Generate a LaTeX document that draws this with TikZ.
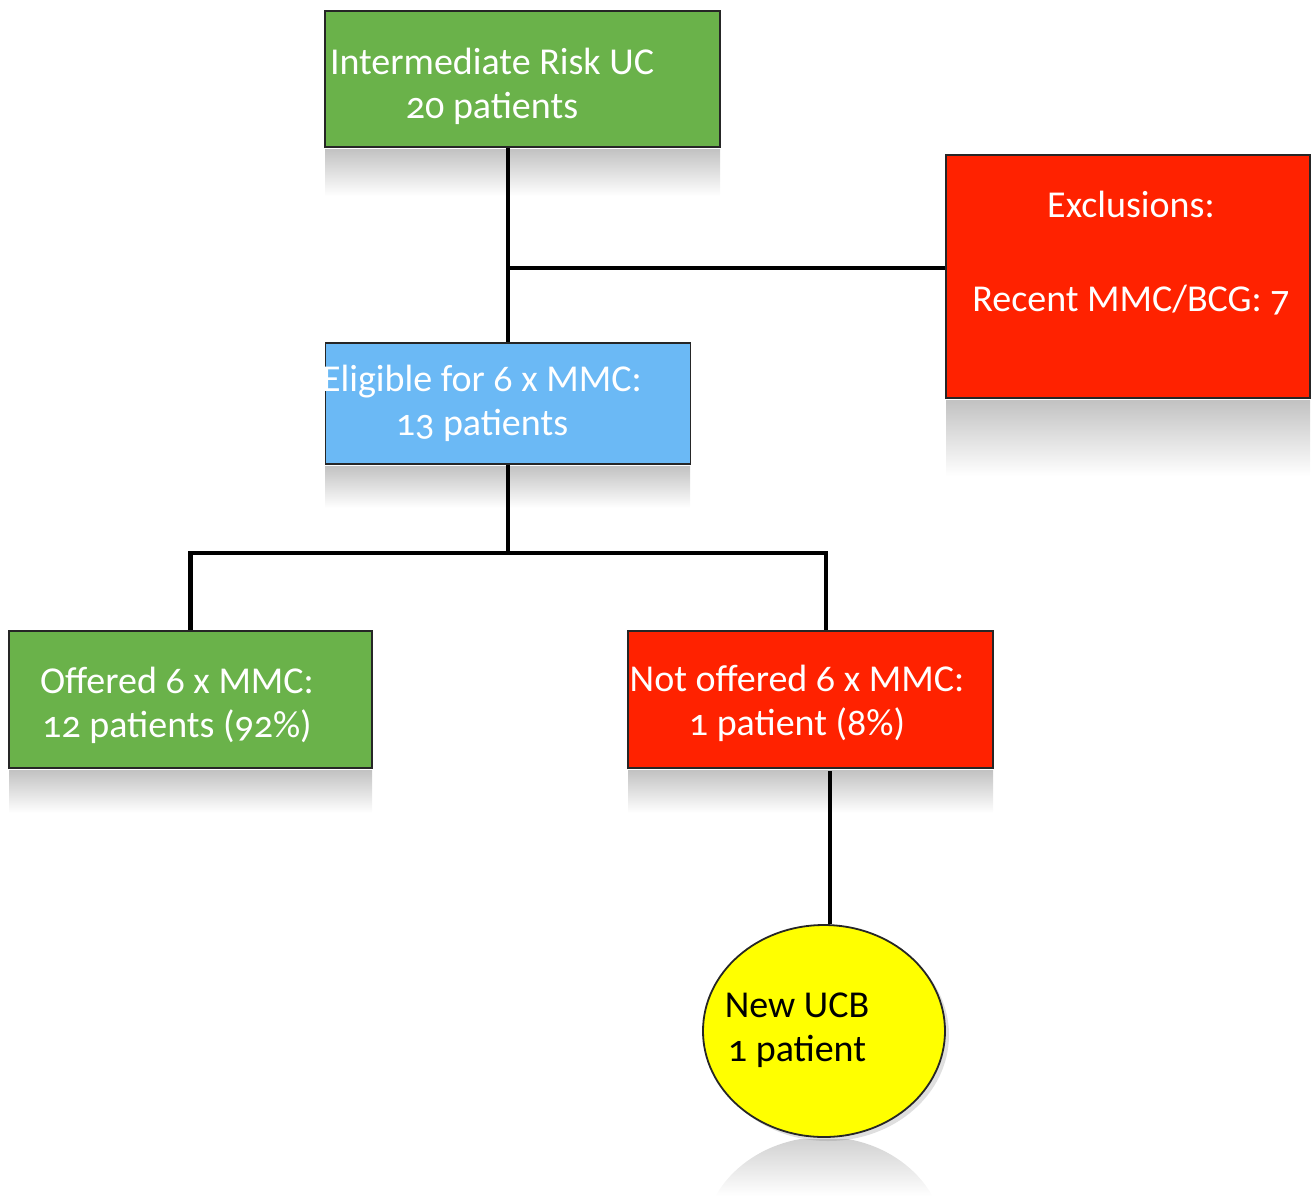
\documentclass[tikz,border=0pt]{standalone}
\usepackage{fontspec}
\setmainfont{Carlito}[Numbers=OldStyle]
\usetikzlibrary{shapes.geometric,shadows}
\definecolor{boxgreen}{RGB}{106,178,74}
\definecolor{boxred}{RGB}{255,34,0}
\definecolor{boxblue}{RGB}{107,185,245}
\definecolor{boxyellow}{RGB}{255,255,0}
\tikzset{
  box/.style={draw=black!85,line width=0.9pt,rectangle,inner sep=0pt},
  txt/.style={text=white,align=center,font=\fontsize{19}{22}\selectfont},
  link/.style={line width=2.4pt},
  mirror/.style={top color=black!24,bottom color=white,draw=none},
}
\begin{document}
\begin{tikzpicture}[x=0.5pt,y=-0.5pt]
\useasboundingbox (0,0) rectangle (1314,1196);
% reflections
\shade[mirror] (325,149) rectangle (720,196);
\shade[mirror] (946,400) rectangle (1310,476);
\shade[mirror] (325,466) rectangle (690,508);
\shade[mirror] (9,770) rectangle (372,813);
\shade[mirror] (628,770) rectangle (993,813);
\scope
    \clip (824,1243) ellipse [x radius=60.5pt,y radius=53pt];
    \shade[top color=black!18,bottom color=white] (700,1139) rectangle (950,1196);
\endscope
% connectors
\coordinate (j1) at (508,268);
\coordinate (j2) at (508,553);
\coordinate (j3) at (826,553);
\coordinate (j4) at (830,771);
% boxes
\node[box,fill=boxgreen,minimum width=197.5pt,minimum height=68pt] (top) at (522.5,79) {};
\node[box,fill=boxred,minimum width=182pt,minimum height=121.5pt] (excl) at (1128,276.5) {};
\node[box,fill=boxblue,minimum width=182.5pt,minimum height=60.5pt] (elig) at (508,403.5) {};
\node[box,fill=boxgreen,minimum width=181.5pt,minimum height=68.5pt] (off) at (190.5,699.5) {};
\node[box,fill=boxred,minimum width=182.5pt,minimum height=68.5pt] (notoff) at (810.5,699.5) {};
\node[box,ellipse,fill=boxyellow,minimum width=121pt,minimum height=106pt,
      drop shadow={opacity=0.25,shadow xshift=2pt,shadow yshift=-2pt}] (new) at (824,1031) {};
\draw[link] (top.south -| j1) -- (elig.north -| j1);
\draw[link] (j1) -- (j1 -| excl.west);
\draw[link] (elig.south) -- (elig.south |- j2);
\draw[link] (off.north) |- (j3) -- (j3 |- notoff.north);
\draw[link] (j4) -- (j4 |- new.north);
% texts
\node[txt] (top-t) at (492,86) {Intermediate Risk UC\\20 patients};
\node[txt] (excl-t) at (1131,253) {Exclusions:\\[25pt]Recent MMC/BCG: 7};
\node[txt] (elig-t) at (482,403) {Eligible for 6 x MMC:\\13 patients};
\node[txt] (off-t) at (177,705.5) {Offered 6 x MMC:\\12 patients (92\%)};
\node[txt] (notoff-t) at (797,703.5) {Not offered 6 x MMC:\\1 patient (8\%)};
\node[txt,text=black] (new-t) at (797,1030.5) {New UCB\\1 patient};
\end{tikzpicture}
\end{document}
